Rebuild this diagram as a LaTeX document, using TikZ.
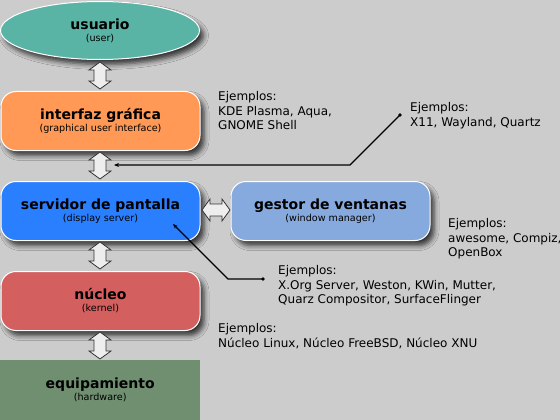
\documentclass[tikz,border=0pt]{standalone}
\usepackage{fontspec}
\setmainfont{DejaVu Sans}
\usetikzlibrary{shapes.geometric,shadows.blur,arrows.meta}
\definecolor{bg}{HTML}{CCCCCC}
\definecolor{cuser}{HTML}{5AB4A6}
\definecolor{cgui}{HTML}{FF9955}
\definecolor{cdisp}{HTML}{2A7FFF}
\definecolor{cwm}{HTML}{87AADE}
\definecolor{ckern}{HTML}{D45F5F}
\definecolor{chw}{HTML}{6F8F70}
\definecolor{carr}{HTML}{EEEEEE}
\tikzset{
  layer/.style={draw=white, line width=1pt, rounded corners=15pt, minimum width=199pt, minimum height=59pt, align=center, inner sep=0pt, blur shadow={shadow xshift=4pt, shadow yshift=-5pt, shadow blur radius=5pt, shadow opacity=75}},
  note/.style={anchor=north west, align=left, inner sep=0pt, font=\fontsize{12}{14.7}\selectfont},
  dbl/.style={fill=carr, draw=black!80, line width=0.8pt, line join=miter},
  pointer/.style={draw=black, line width=1.2pt, -{Stealth[length=5pt,width=4pt]}},
}
\newcommand{\ttl}[1]{{\fontsize{14}{15}\selectfont\bfseries #1}}
\newcommand{\sub}[1]{\\[0pt]{\fontsize{9.6}{11}\selectfont #1}}
\newcommand{\vdbl}[3]{% x, ytop, ybottom
  \draw[dbl] (#1,#2) -- (#1+11,#2+8) -- (#1+6,#2+8) -- (#1+6,#3-8) -- (#1+11,#3-8) -- (#1,#3) -- (#1-11,#3-8) -- (#1-6,#3-8) -- (#1-6,#2+8) -- (#1-11,#2+8) -- cycle;}
\begin{document}
\begin{tikzpicture}[x=1pt,y=-1pt]
\useasboundingbox (0,0) rectangle (560,420);
\fill[bg] (0,0) rectangle (560,420);
% layers
\node[layer, ellipse, rounded corners=0pt, fill=cuser, minimum width=199pt, minimum height=58pt] (user) at (100,30.5) {\ttl{usuario}\sub{(user)}};
\node[layer, fill=cgui] (gui) at (100.5,121) {\ttl{interfaz gráfica}\sub{(graphical user interface)}};
\node[layer, fill=cdisp] (disp) at (100.5,211) {\ttl{servidor de pantalla}\sub{(display server)}};
\node[layer, fill=cwm] (wm) at (330.5,211) {\ttl{gestor de ventanas}\sub{(window manager)}};
\node[layer, fill=ckern] (kern) at (100.5,301) {\ttl{núcleo}\sub{(kernel)}};
\node[fill=chw, minimum width=200pt, minimum height=60pt, inner sep=0pt, align=center, anchor=north west] (hw) at (0,360) {\ttl{equipamiento}\sub{(hardware)}};
% double arrows
\vdbl{100}{62}{89}
\vdbl{100}{152}{179}
\vdbl{100}{242}{269}
\vdbl{100}{332}{359}
\draw[dbl] (202,210) -- (210,199) -- (210,204) -- (222,204) -- (222,199) -- (230,210) -- (222,221) -- (222,216) -- (210,216) -- (210,221) -- cycle;
% notes
\node[note] (ngui) at (218,91) {Ejemplos:\\KDE Plasma, Aqua,\\GNOME Shell};
\node[note] (ndisp1) at (410,102) {Ejemplos:\\X11, Wayland, Quartz};
\node[note] (nwm) at (448,218) {Ejemplos:\\awesome, Compiz,\\OpenBox};
\node[note] (ndisp2) at (278,265) {Ejemplos:\\X.Org Server, Weston, KWin, Mutter,\\Quarz Compositor, SurfaceFlinger};
\node[note] (nkern) at (218,323) {Ejemplos:\\Núcleo Linux, Núcleo FreeBSD, Núcleo XNU};
% pointers
\coordinate (d1) at (400,115);
\coordinate (b1) at (350,165);
\coordinate (t1) at (114,165);
\fill (d1) circle (1.8pt);
\draw[pointer] (d1) -- (b1) -- (t1);
\coordinate (d2) at (263,279);
\coordinate (b2) at (228,279);
\coordinate (t2) at (173,224);
\fill (d2) circle (1.8pt);
\draw[pointer] (d2) -- (b2) -- (t2);
\end{tikzpicture}
\end{document}
